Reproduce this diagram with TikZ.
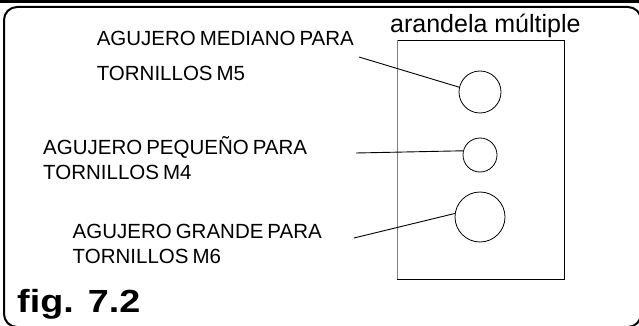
\documentclass[tikz,border=0pt]{standalone}
\usepackage{fontspec}
\setmainfont{Liberation Sans}
\usetikzlibrary{calc}
\newcommand\lblfont{\fontsize{20.5}{24}\selectfont\spaceskip=4pt plus 1pt\relax}
\tikzset{
  lbl/.style={anchor=base west, inner sep=0pt, font=\lblfont},
  hole/.style={circle, draw, line width=0.8pt, inner sep=0pt},
  leader/.style={line width=0.9pt}
}

\begin{document}
\begin{tikzpicture}[x=1pt, y=-1pt]
    \useasboundingbox (0,0) rectangle (639,326);
    \fill (0,0) rectangle (639,3.5);
    \draw[line width=2pt, rounded corners=13pt] (4,7) rectangle (641,327);
    % washer plate
    \draw[line width=0.9pt] (397,40) rectangle (564,279);
    \draw[line width=0.9pt, gray] (397,40) -- (397,279);
    \node[anchor=base west, inner sep=0pt, font=\fontsize{25}{30}\selectfont] (title) at (390,33) {arandela múltiple};
    % holes
    \node[hole, minimum size=42pt] (holeM) at (480,92) {};
    \node[hole, minimum size=34pt] (holeS) at (480,155) {};
    \node[hole, minimum size=50pt] (holeL) at (480,217) {};
    % labels
    \node[lbl] (m5a) at (96.6,46) {AGUJERO MEDIANO PARA};
    \node[lbl] (m5b) at (96.6,80.5) {TORNILLOS M5};
    \node[lbl] (m4a) at (43,154) {AGUJERO PEQUEÑO PARA};
    \node[lbl] (m4b) at (43,179) {TORNILLOS M4};
    \node[lbl] (m6a) at (72.5,238) {AGUJERO GRANDE PARA};
    \node[lbl] (m6b) at (72.5,263) {TORNILLOS M6};
    \coordinate (m5end) at (359,57);
    \coordinate (m4end) at (356,153);
    \coordinate (m6end) at (354,238);
    \draw[leader] (m5end) -- (holeM.167);
    \draw[leader] (m4end) -- (holeS.166);
    \draw[leader] (m6end) -- (holeL.172);
    \node[anchor=base west, inner sep=0pt, font=\fontsize{32}{38}\selectfont\bfseries] (fig) at (17,312) {\scalebox{1.18}[1]{fig. 7.2}};
\end{tikzpicture}
\end{document}
